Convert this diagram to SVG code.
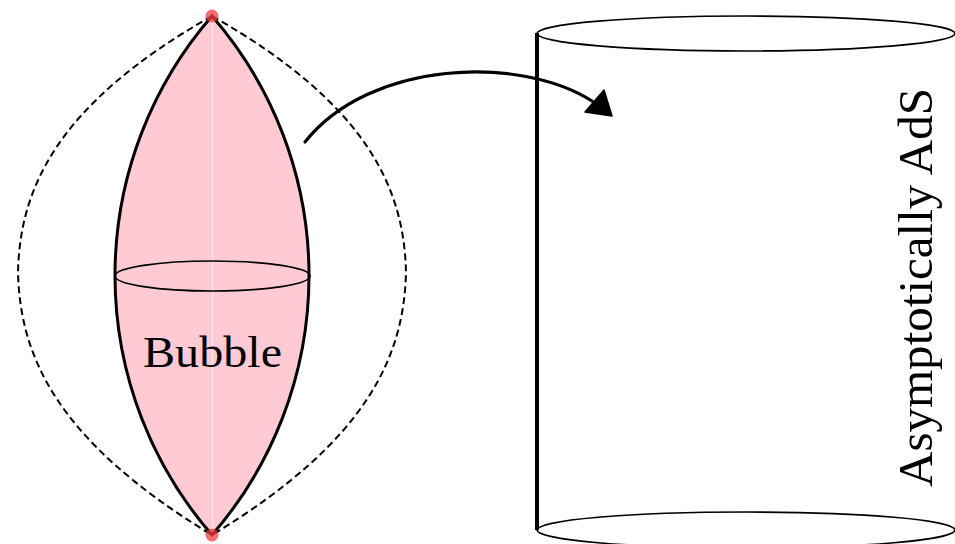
<svg xmlns="http://www.w3.org/2000/svg" width="955" height="544" viewBox="0 0 955 544">
<style>
.edge{fill:none;stroke:#000;stroke-width:1.7}
.dash{fill:none;stroke:#000;stroke-width:2;stroke-dasharray:7 4}
.lbl{font-family:"Liberation Serif",serif;fill:#000}
</style>
<rect width="955" height="544" fill="#fff"/>
<g id="bubble">
<path d="M212,16 C55,105 20,190 18,272 C20,355 55,440 212,535" class="dash"/>
<path d="M212,16 C369,105 404,190 406,272 C404,355 369,440 212,535" class="dash"/>
<path d="M212,16 A395.6,395.6 0 0 0 212,535 A395.6,395.6 0 0 0 212,16 Z" fill="#ffcad4" stroke="#000" stroke-width="3" stroke-linejoin="miter"/>
<line x1="212.5" y1="20" x2="212.5" y2="530" stroke="#ffe4e9" stroke-width="1.2"/>
<ellipse cx="212.5" cy="276" rx="97.5" ry="15" class="edge"/>
<circle cx="212" cy="16" r="6.5" fill="#f04040" fill-opacity="0.75"/>
<circle cx="212" cy="535" r="6.5" fill="#f04040" fill-opacity="0.75"/>
<text x="212.5" y="367" class="lbl" font-size="45" text-anchor="middle" textLength="139" lengthAdjust="spacingAndGlyphs">Bubble</text>
</g>
<g id="ads">
<ellipse cx="746" cy="33.5" rx="209" ry="17.5" class="edge"/>
<ellipse cx="746" cy="530" rx="209" ry="18" class="edge"/>
<line x1="537" y1="33" x2="537" y2="530" stroke="#000" stroke-width="4"/>
<text transform="translate(932,287.5) rotate(-90)" class="lbl" font-size="48" text-anchor="middle" textLength="399" lengthAdjust="spacingAndGlyphs">Asymptotically AdS</text>
</g>
<g id="connectors">
<path d="M305,142 C370,60 520,55 592,101" fill="none" stroke="#000" stroke-width="3.2" stroke-linecap="round"/>
<path d="M585,112 L604,90 L612,116 Z" fill="#000" stroke="#000" stroke-width="1.5" stroke-linejoin="round"/>
</g>
</svg>
